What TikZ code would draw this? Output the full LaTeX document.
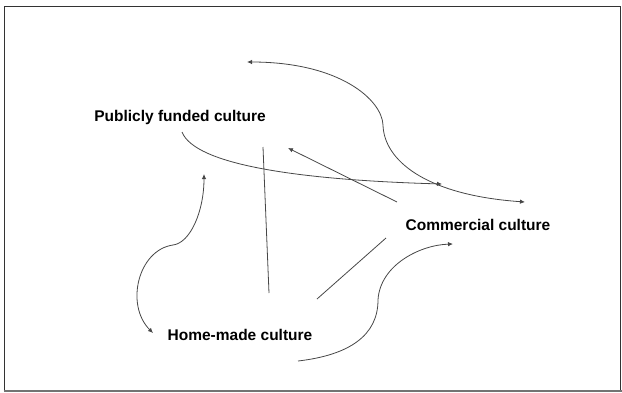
\documentclass[tikz,border=0pt]{standalone}
\usepackage{fontspec}
\setmainfont{Liberation Sans}
\usetikzlibrary{arrows.meta}
\tikzset{
	culture/.style={font=\fontsize{15.5}{18}\selectfont\bfseries, inner sep=0pt},
	link/.style={line width=0.8pt, color=black!72},
	tip/.style={-{Latex[length=5pt, width=4.5pt]}},
	twotips/.style={{Latex[length=5pt, width=4.5pt]}-{Latex[length=5pt, width=4.5pt]}}
}

\begin{document}
\begin{tikzpicture}[x=1pt, y=-1pt]
			%%%%% START %%%%%
			
			\useasboundingbox (0, 0) rectangle (622, 392);
			\draw[line width=0.8pt, color=black!80] (4.5, 390) -- (4.5, 6) -- (620.5, 6) -- (620.5, 390);
			\draw[line width=2pt, color=black!55] (3.5, 390.5) -- (622, 390.5);
			
			\node[culture] (public) at (180, 117) {Publicly funded culture};
			\node[culture] (commercial) at (478, 225) {Commercial culture};
			\node[culture] (home) at (240, 335) {Home-made culture};
			
			\coordinate (p1) at (182, 132);
			\coordinate (p2) at (442, 184);
			\coordinate (s1) at (247, 62);
			\coordinate (s2) at (525, 202);
			\coordinate (c1) at (397, 202);
			\coordinate (c2) at (288, 148);
			\coordinate (v1) at (263, 147);
			\coordinate (v2) at (269, 293);
			\coordinate (d1) at (317, 299);
			\coordinate (d2) at (386, 238);
			\coordinate (h1) at (204, 174);
			\coordinate (h2) at (153, 333);
			\coordinate (b1) at (298, 361);
			\coordinate (b2) at (453, 244);
			
			\draw[link, twotips] (s1) .. controls (340, 62) and (382, 100) .. (383, 125) .. controls (384, 160) and (425, 195) .. (s2);
			\draw[link, tip] (p1) .. controls (195, 165) and (300, 180) .. (p2);
			\draw[link, tip] (c1) -- (c2);
			\draw[link] (v1) -- (v2);
			\draw[link] (d1) -- (d2);
			\draw[link, twotips] (h1) .. controls (204, 212) and (190, 243) .. (173, 245) .. controls (138, 250) and (125, 305) .. (h2);
			\draw[link, tip] (b1) .. controls (350, 355) and (378, 335) .. (378, 300) .. controls (380, 265) and (420, 245) .. (b2);
			
			%%%%% END %%%%%
\end{tikzpicture}
\end{document}
